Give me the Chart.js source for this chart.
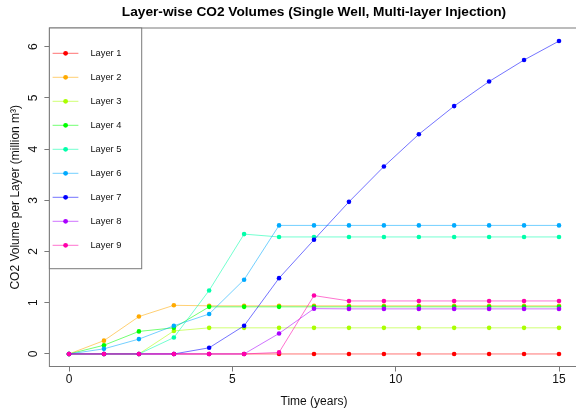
<!DOCTYPE html>
<html>
<head>
<meta charset="utf-8">
<script src="https://cdn.jsdelivr.net/npm/chart.js@4.4.0/dist/chart.umd.min.js"></script>
<style>
  html, body { margin: 0; padding: 0; overflow: hidden; background: #fff; }
  #wrap { width: 600px; height: 411px; }
</style>
</head>
<body>
<div id="wrap"><canvas id="c" width="600" height="411"></canvas></div>
<script>
// Simulation times (years)
const years = [0, 1.07, 2.14, 3.21, 4.29, 5.36, 6.43, 7.5, 8.57, 9.64, 10.71, 11.79, 12.86, 13.93, 15];

// CO2 volume stored in each layer (million m³)
const layer1 = [0, 0, 0, 0, 0, 0, 0, 0, 0, 0, 0, 0, 0, 0, 0];
const layer2 = [0, 0.26, 0.73, 0.95, 0.94, 0.94, 0.94, 0.94, 0.94, 0.94, 0.94, 0.94, 0.94, 0.94, 0.94];
const layer3 = [0, 0, 0, 0.45, 0.51, 0.51, 0.51, 0.51, 0.51, 0.51, 0.51, 0.51, 0.51, 0.51, 0.51];
const layer4 = [0, 0.17, 0.44, 0.51, 0.92, 0.92, 0.92, 0.92, 0.92, 0.92, 0.92, 0.92, 0.92, 0.92, 0.92];
const layer5 = [0, 0, 0, 0.32, 1.24, 2.34, 2.285, 2.285, 2.285, 2.285, 2.285, 2.285, 2.285, 2.285, 2.285];
const layer6 = [0, 0.10, 0.29, 0.55, 0.78, 1.45, 2.51, 2.51, 2.51, 2.51, 2.51, 2.51, 2.51, 2.51, 2.51];
const layer7 = [0, 0, 0, 0, 0.12, 0.55, 1.48, 2.23, 2.97, 3.66, 4.29, 4.84, 5.32, 5.74, 6.11];
const layer8 = [0, 0, 0, 0, 0, 0, 0.40, 0.885, 0.88, 0.88, 0.88, 0.88, 0.88, 0.88, 0.88];
const layer9 = [0, 0, 0, 0, 0, 0, 0.03, 1.14, 1.035, 1.035, 1.035, 1.035, 1.035, 1.035, 1.035];

const layerNames = ['Layer 1', 'Layer 2', 'Layer 3', 'Layer 4', 'Layer 5', 'Layer 6', 'Layer 7', 'Layer 8', 'Layer 9'];
const layerValues = [layer1, layer2, layer3, layer4, layer5, layer6, layer7, layer8, layer9];
const layerColors = ['#FF0000', '#FFAA00', '#AAFF00', '#00FF00', '#00FFAA', '#00AAFF', '#0000FF', '#AA00FF', '#FF00AA'];

const xTicks = [0, 5, 10, 15];
const yTicks = [0, 1, 2, 3, 4, 5, 6];

const FONT = '"Liberation Sans", Arial, Helvetica, sans-serif';
const TEXT = '#111';
const AXIS = '#7a7a7a';
const LINE_ALPHA = '8c';

Chart.defaults.font.family = FONT;

const datasets = layerValues.map((vals, i) => ({
  label: layerNames[i],
  data: years.map((t, k) => ({ x: t, y: vals[k] })),
  borderColor: layerColors[i] + LINE_ALPHA,
  backgroundColor: layerColors[i],
  pointBackgroundColor: layerColors[i],
  pointBorderWidth: 0,
  pointRadius: 2.3,
  borderWidth: 1,
  tension: 0,
  order: layerNames.length - i
}));

// Box, rotated y tick labels, inset legend and main title
const decorations = {
  id: 'decorations',
  afterDraw(chart) {
    const ctx = chart.ctx;
    const a = chart.chartArea;
    const ys = chart.scales.y;

    ctx.save();
    // plot frame
    ctx.strokeStyle = AXIS;
    ctx.lineWidth = 1;
    ctx.strokeRect(a.left, a.top, a.right - a.left, a.bottom - a.top);

    // y tick labels, reading upward
    ctx.fillStyle = TEXT;
    ctx.font = '12px ' + FONT;
    ctx.textAlign = 'center';
    ctx.textBaseline = 'middle';
    yTicks.forEach(v => {
      const p = ys.getPixelForValue(v);
      ctx.save();
      ctx.translate(34, p);
      ctx.rotate(-Math.PI / 2);
      ctx.fillText(String(v), 0, 0);
      ctx.restore();
    });

    // legend in the top-left corner
    const lx = a.left, ly = a.top, lw = 92.3, lh = 240.7;
    ctx.fillStyle = '#fff';
    ctx.fillRect(lx, ly, lw, lh);
    ctx.strokeStyle = AXIS;
    ctx.strokeRect(lx, ly, lw, lh);
    chart.data.datasets.forEach((ds, i) => {
      const cy = ly + 25.3 + i * 24;
      ctx.strokeStyle = ds.borderColor;
      ctx.lineWidth = 1;
      ctx.beginPath();
      ctx.moveTo(lx + 3.2, cy);
      ctx.lineTo(lx + 29, cy);
      ctx.stroke();
      ctx.fillStyle = ds.pointBackgroundColor;
      ctx.beginPath();
      ctx.arc(lx + 16.2, cy, 2.4, 0, Math.PI * 2);
      ctx.fill();
      ctx.fillStyle = TEXT;
      ctx.font = '9.3px ' + FONT;
      ctx.textAlign = 'left';
      ctx.textBaseline = 'middle';
      ctx.fillText(ds.label, lx + 41, cy);
    });

    // main title
    ctx.fillStyle = '#000';
    ctx.font = 'bold 13.7px ' + FONT;
    ctx.textAlign = 'center';
    ctx.textBaseline = 'middle';
    ctx.fillText('Layer-wise CO2 Volumes (Single Well, Multi-layer Injection)', (a.left + a.right) / 2, 12.5);
    ctx.restore();
  }
};

new Chart(document.getElementById('c'), {
  type: 'line',
  data: { datasets },
  options: {
    responsive: false,
    animation: false,
    devicePixelRatio: 1,
    layout: { padding: { top: 28, right: 21.4, left: 0, bottom: 0 } },
    plugins: { legend: { display: false }, title: { display: false }, tooltip: { enabled: false } },
    scales: {
      x: {
        type: 'linear',
        min: -0.6,
        max: 15.6,
        afterBuildTicks: s => { s.ticks = xTicks.map(v => ({ value: v })); },
        afterFit: s => { s.height = 44.5; },
        ticks: { color: TEXT, font: { size: 12 }, padding: 1.3, maxRotation: 0, autoSkip: false },
        grid: { drawOnChartArea: false, tickLength: 5, color: AXIS },
        border: { display: false },
        title: { display: true, text: 'Time (years)', color: TEXT, font: { size: 12 }, padding: { top: 0, bottom: 1.8 } }
      },
      y: {
        type: 'linear',
        min: -0.245,
        max: 6.365,
        afterBuildTicks: s => { s.ticks = yTicks.map(v => ({ value: v })); },
        afterFit: s => { s.width = 49.4; },
        ticks: { display: false },
        grid: { drawOnChartArea: false, tickLength: 5, color: AXIS },
        border: { display: false },
        title: { display: true, text: 'CO2 Volume per Layer (million m³)', color: TEXT, font: { size: 12 }, padding: { top: 8.3, bottom: 0 } }
      }
    }
  },
  plugins: [decorations]
});
</script>
</body>
</html>
